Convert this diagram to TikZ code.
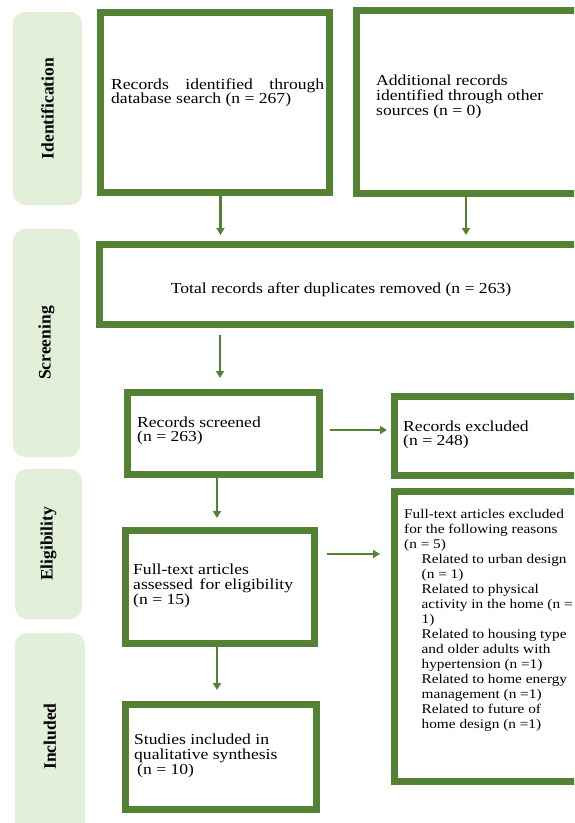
\documentclass[tikz,border=0pt]{standalone}
\usepackage{fontspec}
\setmainfont[FakeStretch=1.15]{Liberation Serif}
\newfontfamily\stagefont{Liberation Serif}
\usetikzlibrary{arrows.meta}
\definecolor{prgreen}{RGB}{84,130,53}
\definecolor{prpale}{RGB}{226,239,217}
\tikzset{>={Triangle[width=8pt,length=7pt]}}
\tikzset{
	gbox/.style={draw=prgreen, line width=7pt, inner sep=0pt, outer sep=3.5pt, fill=white},
	stage/.style={fill=prpale, rounded corners=12pt, rotate=90, inner sep=0pt,
		font=\stagefont\bfseries\fontsize{17.5}{18}\selectfont},
	btext/.style={anchor=north west, inner sep=0pt, align=left},
	arr/.style={draw=prgreen, line width=2.5pt, ->}
}
\newcommand{\fs}[1]{\fontsize{15.3}{#1}\selectfont}
\newcommand{\ind}{\hspace*{17.5pt}}

\begin{document}
\begin{tikzpicture}[x=1pt, y=-1pt]
    \useasboundingbox (0,0) rectangle (574,823);
    \clip (0,0) rectangle (574,823);
    % stages
    \node[stage, minimum width=193pt, minimum height=69pt] (idf) at (47.5,108.5) {Identification};
    \node[stage, minimum width=228pt, minimum height=67pt] (scr) at (46.5,343) {Screening};
    \node[stage, minimum width=150pt, minimum height=67pt] (elg) at (48.5,544) {Eligibility};
    \node[stage, minimum width=207pt, minimum height=70pt] (inc) at (50,736.5) {Included};
    % boxes
    \node[gbox, minimum width=229pt, minimum height=180pt] (db) at (215,102.5) {};
    \node[gbox, minimum width=230pt, minimum height=183pt] (other) at (471.5,102) {};
    \node[gbox, minimum width=483pt, minimum height=80pt] (total) at (341,284.5) {};
    \node[gbox, minimum width=192pt, minimum height=82pt] (screened) at (223.5,433.5) {};
    \node[gbox, minimum width=192pt, minimum height=79pt] (excl) at (490.5,436) {};
    \node[gbox, minimum width=189pt, minimum height=113pt] (full) at (220,587) {};
    \node[gbox, minimum width=192pt, minimum height=290pt] (reasons) at (490.5,636.5) {};
    \node[gbox, minimum width=191pt, minimum height=105pt] (incl) at (221,757) {};
    % texts
    \node[btext, align=justify, text width=213pt, font=\fs{14}] (tdb) at (111,79)
        {Records identified through database search (n = 267)};
    \node[btext, font=\fs{15}] (tother) at (376,75)
        {Additional records\\identified through other\\sources (n = 0)};
    \node[inner sep=0pt, anchor=base, font=\fs{15}] (ttotal) at (341,293)
        {Total records after duplicates removed (n = 263)};
    \node[btext, font=\fs{14}] (tscreened) at (137,417) {Records screened\\(n = 263)};
    \node[btext, font=\fs{14}] (texcl) at (403,421) {Records excluded\\(n = 248)};
    \node[btext, font=\fs{15}] (tfull) at (133,564)
        {Full-text articles\\assessed\, for eligibility\\(n = 15)};
    \node[btext, font=\fontsize{13.3}{15}\selectfont] (treasons) at (404,509)
        {Full-text articles excluded\\for the following reasons\\(n = 5)\\
        \ind Related to urban design\\\ind(n = 1)\\
        \ind Related to physical\\\ind activity in the home (n =\\\ind 1)\\
        \ind Related to housing type\\\ind and older adults with\\\ind hypertension (n =1)\\
        \ind Related to home energy\\\ind management (n =1)\\
        \ind Related to future of\\\ind home design (n =1)};
    \node[btext, font=\fs{15}] (tincl) at (134,734)
        {Studies included in\\qualitative synthesis\\\hspace*{3pt}(n = 10)};
    % arrows
    \draw[arr, shorten >=6pt] (db.south -| 220.5,0) -- (total.north -| 220.5,0);
    \draw[arr, shorten >=6pt] (other.south -| 466,0) -- (total.north -| 466,0);
    \draw[arr, shorten <=7pt, shorten >=11pt] (total.south -| 220,0) -- (screened.north -| 220,0);
    \draw[arr, shorten <=7pt, shorten >=4pt] (screened.east |- 0,430) -- (excl.west |- 0,430);
    \draw[arr, shorten >=9pt] (screened.south -| 217,0) -- (full.north -| 217,0);
    \draw[arr, shorten <=9pt, shorten >=11pt] (full.east |- 0,554) -- (reasons.west |- 0,554);
    \draw[arr, shorten >=11pt] (full.south -| 217,0) -- (incl.north -| 217,0);
\end{tikzpicture}
\end{document}
